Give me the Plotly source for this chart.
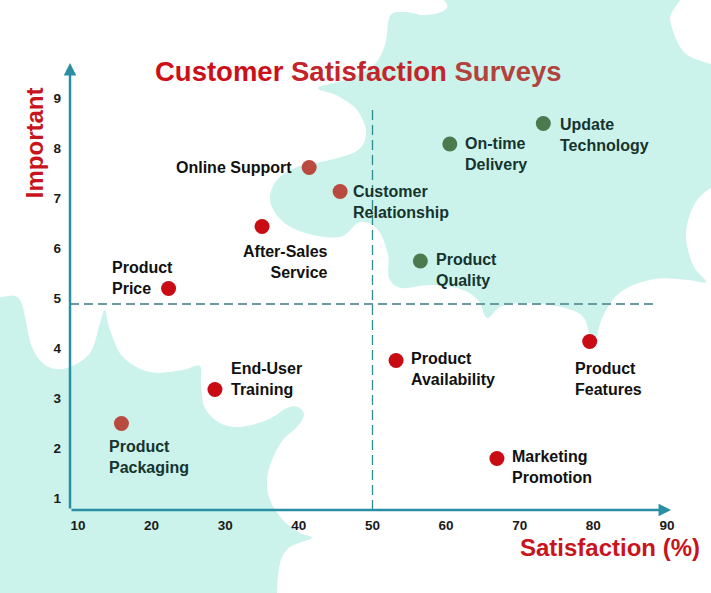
import plotly.graph_objects as go

# ---- data ----
factors = ["Online Support", "Customer Relationship", "After-Sales Service", "Product Price",
           "On-time Delivery", "Update Technology", "Product Quality", "Product Features",
           "Product Availability", "End-User Training", "Product Packaging", "Marketing Promotion"]
label_text = ["Online Support", "Customer<br>Relationship", "After-Sales<br>Service", "Product<br>Price",
              "On-time<br>Delivery", "Update<br>Technology", "Product<br>Quality", "Product<br>Features",
              "Product<br>Availability", "End-User<br>Training", "Product<br>Packaging", "Marketing<br>Promotion"]
satisfaction = [41.4, 45.6, 35.0, 22.3, 60.5, 73.2, 56.5, 79.5, 53.2, 28.6, 15.9, 66.9]
importance = [7.61, 7.13, 6.43, 5.19, 8.08, 8.49, 5.74, 4.13, 3.75, 3.17, 2.49, 1.79]
dot_group = ["brown", "brown", "red", "red", "green", "green", "green", "red", "red", "red", "brown", "red"]

x_ticks = [10, 20, 30, 40, 50, 60, 70, 80, 90]
y_ticks = [1, 2, 3, 4, 5, 6, 7, 8, 9]
mid_satisfaction = 50
mid_importance = 4.88

# ---- styles ----
W, H = 711, 593
ML, MR, MT, MB = 70, 20, 62, 83
PW, PH = W - ML - MR, H - MT - MB
X_RANGE = [8.913, 93.26]
Y_RANGE = [0.76, 9.72]

TEAL = "#cbf3ec"
AXIS_BLUE = "#2b8fa3"
TITLE_RED = "#c8141c"
dot_colors = {"red": "#c90b14", "brown": "#b84a40", "green": "#4a7a4e"}

# label placement: xanchor, yanchor, align, xshift, yshift, colour
label_style = {
    "Online Support": ("right", "middle", "right", -15, 0, "#111111"),
    "Customer Relationship": ("left", "top", "left", 11, 11, "#16332f"),
    "After-Sales Service": ("right", "top", "right", 68, -14, "#111111"),
    "Product Price": ("left", "bottom", "left", -59, -10, "#111111"),
    "On-time Delivery": ("left", "top", "left", 13, 11, "#16332f"),
    "Update Technology": ("left", "top", "left", 15, 10, "#16332f"),
    "Product Quality": ("left", "top", "left", 14, 12, "#16332f"),
    "Product Features": ("left", "top", "left", -17, -16, "#111111"),
    "Product Availability": ("left", "top", "left", 13, 13, "#111111"),
    "End-User Training": ("left", "bottom", "left", 14, -10, "#111111"),
    "Product Packaging": ("left", "top", "left", -14, -12, "#16332f"),
    "Marketing Promotion": ("left", "top", "left", 13, 13, "#111111"),
}

# decorative background blobs, outlines in page pixels
upper_blob = [(455, -20), (668, -20), (670, 20), (684, 52), (711, 64), (735, 70), (735, 180),
              (711, 188), (694, 205), (686, 235), (693, 265), (706, 282), (688, 280), (655, 279),
              (622, 291), (604, 314), (593, 343), (584, 318), (565, 308), (530, 303), (502, 306),
              (487, 318), (478, 300), (460, 289), (430, 285), (402, 288), (389, 278), (388, 255),
              (378, 230), (360, 222), (340, 237), (305, 233), (281, 220), (270, 200), (277, 180),
              (297, 167), (330, 160), (358, 150), (366, 132), (357, 110), (338, 96), (318, 88),
              (345, 80), (372, 67), (385, 45), (390, 16), (405, 12), (425, 15), (447, 8)]
lower_blob = [(-20, 296), (0, 297), (20, 300), (32, 347), (47, 366), (67, 368), (90, 353),
              (100, 323), (105, 310), (110, 330), (123, 357), (150, 372), (183, 370), (200, 366),
              (201, 385), (205, 408), (220, 423), (240, 427), (267, 420), (287, 408), (298, 407),
              (304, 415), (297, 427), (283, 440), (272, 460), (267, 480), (270, 500), (283, 520),
              (300, 533), (312, 538), (290, 547), (280, 563), (277, 593), (277, 620), (-20, 620)]


def to_paper(px, py):
    return (px - ML) / PW, (H - MB - py) / PH


def blob_path(pts):
    p = [to_paper(*q) for q in pts]
    n = len(p)
    d = "M %.4f,%.4f" % p[0]
    for i in range(n):
        p0, p1, p2, p3 = p[i - 1], p[i], p[(i + 1) % n], p[(i + 2) % n]
        c1 = (p1[0] + (p2[0] - p0[0]) / 6, p1[1] + (p2[1] - p0[1]) / 6)
        c2 = (p2[0] - (p3[0] - p1[0]) / 6, p2[1] - (p3[1] - p1[1]) / 6)
        d += " C %.4f,%.4f %.4f,%.4f %.4f,%.4f" % (c1 + c2 + p2)
    return d + " Z"


def main():
    fig = go.Figure()
    fig.add_trace(go.Scatter(
        x=satisfaction, y=importance, mode="markers", text=factors,
        marker=dict(size=15, color=[dot_colors[g] for g in dot_group]),
        hovertemplate="%{text}<br>Satisfaction %{x}%<br>Important %{y}<extra></extra>",
        showlegend=False,
    ))

    shapes = []
    for blob in (upper_blob, lower_blob):
        shapes.append(dict(type="path", path=blob_path(blob), xref="paper", yref="paper",
                           fillcolor=TEAL, line=dict(width=0), layer="below"))
    # quadrant split lines
    shapes.append(dict(type="line", xref="x", yref="y", x0=mid_satisfaction, x1=mid_satisfaction,
                       y0=Y_RANGE[0], y1=8.86, line=dict(color="#2e8c90", width=1.3, dash="10px,5px"),
                       layer="below"))
    shapes.append(dict(type="line", xref="x", yref="y", x0=X_RANGE[0], x1=88.4,
                       y0=mid_importance, y1=mid_importance,
                       line=dict(color="#6a9ba3", width=1.8, dash="9px,5px"), layer="below"))

    annotations = []
    # axis arrows
    annotations.append(dict(x=90.55, y=Y_RANGE[0], ax=X_RANGE[0], ay=Y_RANGE[0], xref="x", yref="y",
                            axref="x", ayref="y", text="", showarrow=True, arrowhead=2, arrowsize=1,
                            arrowwidth=2.5, arrowcolor=AXIS_BLUE, standoff=0, startstandoff=0))
    annotations.append(dict(x=X_RANGE[0], y=9.70, ax=X_RANGE[0], ay=Y_RANGE[0], xref="x", yref="y",
                            axref="x", ayref="y", text="", showarrow=True, arrowhead=2, arrowsize=1,
                            arrowwidth=2.5, arrowcolor=AXIS_BLUE, standoff=0, startstandoff=0))

    for name, txt, xv, yv in zip(factors, label_text, satisfaction, importance):
        xa, ya, al, xs, ys, col = label_style[name]
        annotations.append(dict(x=xv, y=yv, xref="x", yref="y", text="<b>%s</b>" % txt,
                                showarrow=False, xanchor=xa, yanchor=ya, align=al,
                                xshift=xs, yshift=ys,
                                font=dict(family="Liberation Sans, Arial", size=16, color=col)))

    title = ("<b><span style='color:#cc1018'>Customer</span> "
             "<span style='color:#c2252b'>Satisfaction</span> "
             "<span style='color:#b2423d'>Surveys</span></b>")
    annotations.append(dict(x=0.4638, y=0.9777, xref="paper", yref="paper", text=title,
                            showarrow=False, xanchor="center", yanchor="middle",
                            font=dict(family="Liberation Sans, Arial", size=27.5)))
    annotations.append(dict(x=-0.058, y=0.821, xref="paper", yref="paper", text="<b>Important</b>",
                            showarrow=False, textangle=-90, xanchor="center", yanchor="middle",
                            font=dict(family="Liberation Sans, Arial", size=24, color=TITLE_RED)))
    annotations.append(dict(x=1.0177, y=-0.0848, xref="paper", yref="paper",
                            text="<b>Satisfaction (%)</b>", showarrow=False,
                            xanchor="right", yanchor="middle",
                            font=dict(family="Liberation Sans, Arial", size=24, color=TITLE_RED)))

    fig.update_layout(
        width=W, height=H,
        margin=dict(l=ML, r=MR, t=MT, b=MB),
        paper_bgcolor="white",
        plot_bgcolor="rgba(0,0,0,0)",
        shapes=shapes,
        annotations=annotations,
        font=dict(family="Liberation Sans, Arial", color="#1a1a1a"),
        xaxis=dict(range=X_RANGE, showgrid=False, zeroline=False, showline=False, ticks="",
                   tickvals=x_ticks, ticktext=["<b>%d</b>" % v for v in x_ticks],
                   tickfont=dict(size=13.5, color="#1a1a1a"), ticklabelstandoff=5, fixedrange=True),
        yaxis=dict(range=Y_RANGE, showgrid=False, zeroline=False, showline=False, ticks="",
                   tickvals=y_ticks, ticktext=["<b>%d</b>" % v for v in y_ticks],
                   tickfont=dict(size=13.5, color="#1a1a1a"), ticklabelstandoff=8, fixedrange=True),
    )
    # page body has a default 8px margin; drop it so the chart sits flush in the window
    fig.write_html("out.html", config={"displayModeBar": False},
                   post_script="document.body.style.margin='0';")


if __name__ == "__main__":
    main()
